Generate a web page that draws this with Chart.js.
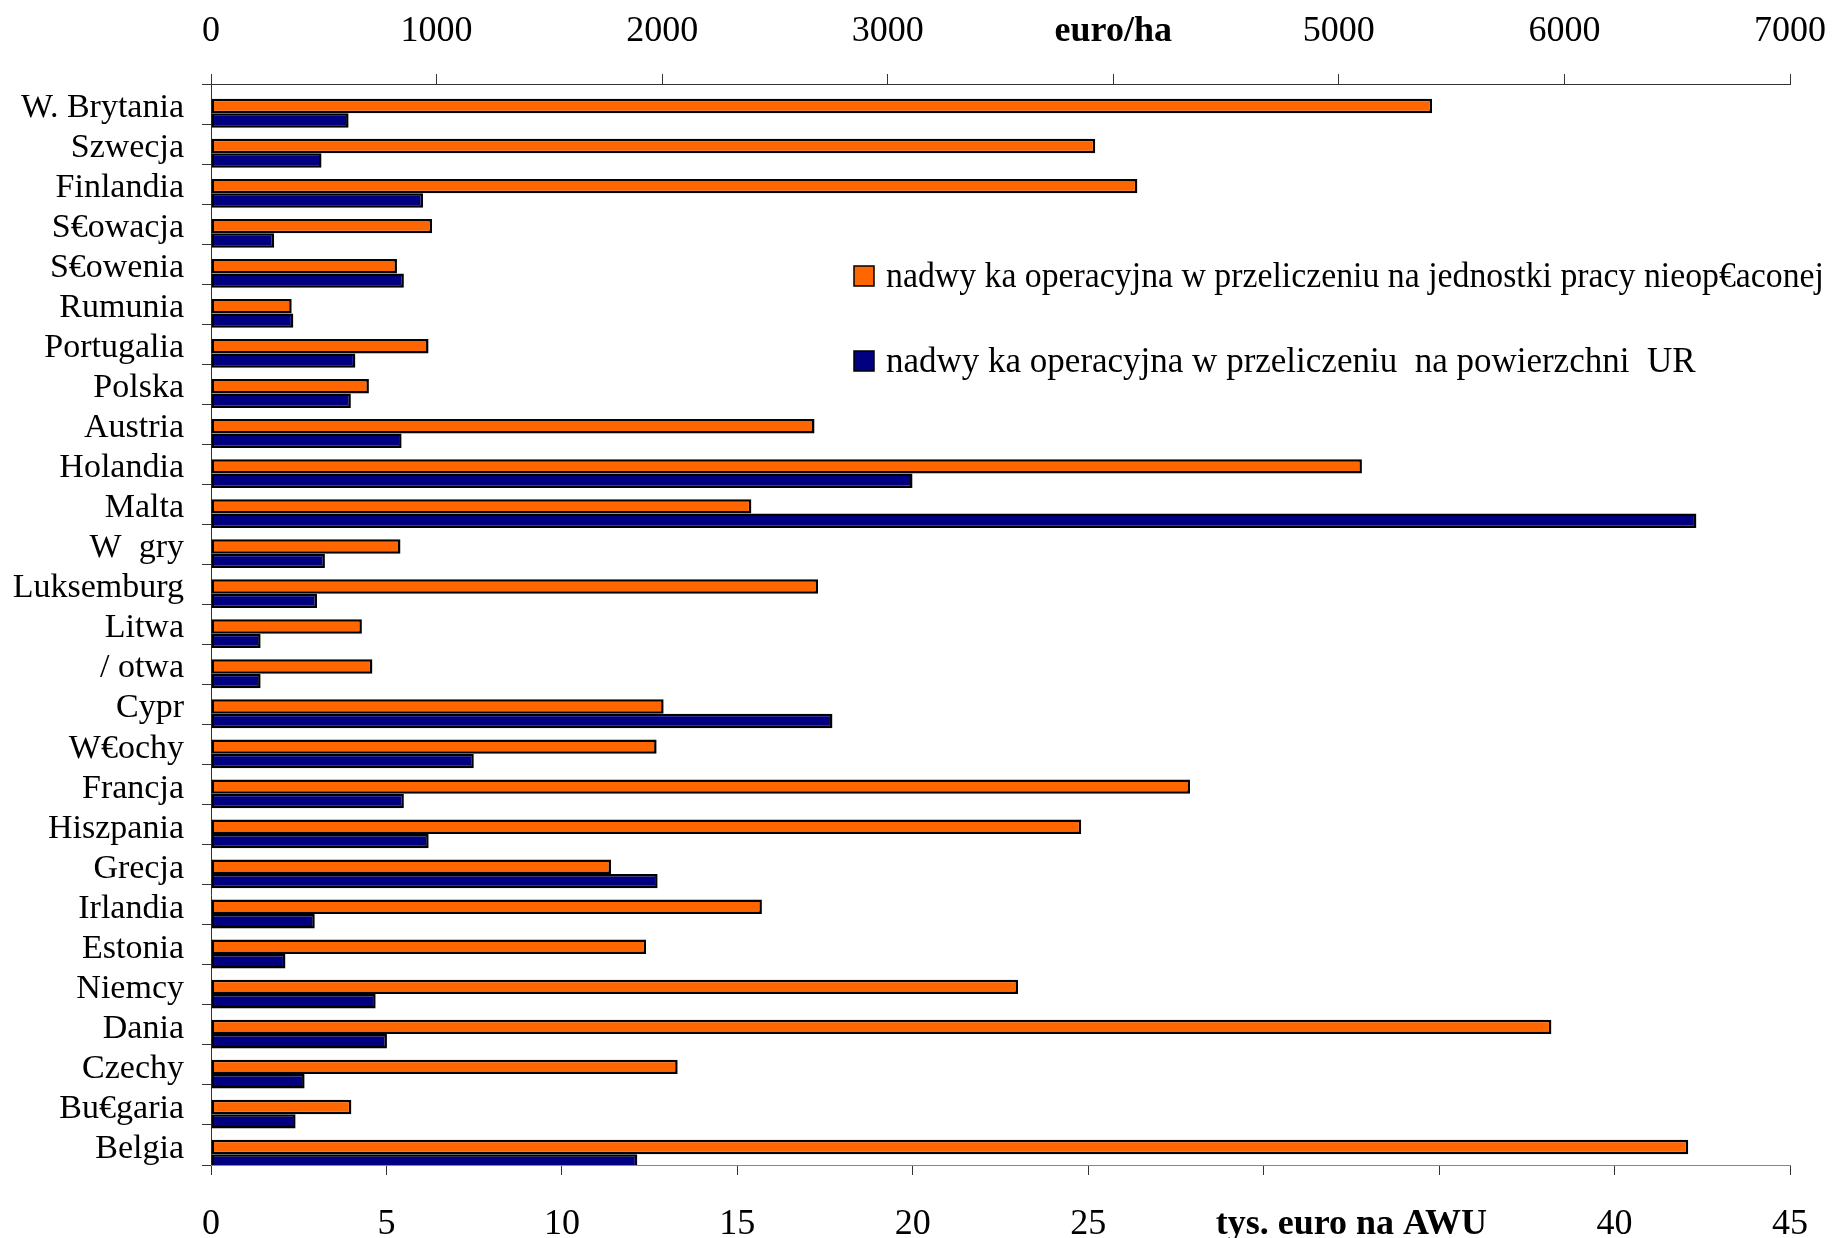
<!DOCTYPE html>
<html>
<head>
<meta charset="utf-8">
<script src="https://cdn.jsdelivr.net/npm/chart.js@4.4.0/dist/chart.umd.min.js"></script>
<style>
  html, body { margin: 0; padding: 0; background: #fff; }
  #wrap { width: 1832px; height: 1238px; position: relative; }
</style>
</head>
<body>
<div id="wrap"><canvas id="chart"></canvas></div>
<script>
// Countries, top to bottom as in the picture
const countries = [
    'W. Brytania', 'Szwecja', 'Finlandia', 'S€owacja', 'S€owenia', 'Rumunia',
    'Portugalia', 'Polska', 'Austria', 'Holandia', 'Malta', 'W  gry',
    'Luksemburg', 'Litwa', '/ otwa', 'Cypr', 'W€ochy', 'Francja',
    'Hiszpania', 'Grecja', 'Irlandia', 'Estonia', 'Niemcy', 'Dania',
    'Czechy', 'Bu€garia', 'Belgia'
];

// tys. euro na AWU (bottom axis)
const awuValues = [
    34.8, 25.2, 26.4, 6.3, 5.3, 2.3,
    6.2, 4.5, 17.2, 32.8, 15.4, 5.4,
    17.3, 4.3, 4.6, 12.9, 12.7, 27.9,
    24.8, 11.4, 15.7, 12.4, 23.0, 38.2,
    13.3, 4.0, 42.1
];

// euro/ha (top axis)
const haValues = [
    610, 490, 940, 280, 855, 365,
    640, 620, 845, 3110, 6585, 505,
    470, 220, 220, 2755, 1165, 855,
    965, 1980, 460, 330, 730, 780,
    415, 375, 1890
];

const awuLabel = 'nadwy ka operacyjna w przeliczeniu na jednostki pracy nieop€aconej';
const haLabel = 'nadwy ka operacyjna w przeliczeniu  na powierzchni  UR';
const awuTitle = 'tys. euro na AWU';
const haTitle = 'euro/ha';

const fontFamily = '"Liberation Serif", "Times New Roman", serif';
const labelFont = { family: fontFamily, size: 34 };
const tickFont = { family: fontFamily, size: 36 };
const boldFont = { family: fontFamily, size: 36, weight: 'bold' };

// bars sit a bit below the category centre, as in the original
const barShift = 0.23;

// Legend drawn inside the plot area
const boxLegend = {
    id: 'boxLegend',
    afterDatasetsDraw(chart, args, opts) {
        const ctx = chart.ctx;
        ctx.save();
        ctx.font = '35px ' + fontFamily;
        ctx.textBaseline = 'middle';
        ctx.textAlign = 'left';
        chart.data.datasets.forEach((ds, i) => {
            const y = opts.y + i * opts.gap;
            ctx.fillStyle = ds.backgroundColor;
            ctx.fillRect(opts.x, y - opts.box / 2, opts.box, opts.box);
            ctx.strokeStyle = '#000';
            ctx.lineWidth = 1.5;
            ctx.strokeRect(opts.x, y - opts.box / 2, opts.box, opts.box);
            ctx.fillStyle = '#000';
            ctx.fillText(ds.label, opts.x + opts.box + 12, y + 2, opts.maxWidth);
        });
        ctx.restore();
    }
};

// Bold unit title on the bottom axis, spanning the 30 and 35 ticks
const bottomTitle = {
    id: 'bottomTitle',
    afterDraw(chart) {
        const sc = chart.scales.x;
        const ctx = chart.ctx;
        const xMid = (sc.getPixelForValue(30) + sc.getPixelForValue(35)) / 2;
        const y = sc.top + sc.options.grid.tickLength + sc.options.ticks.padding + 36 * 1.2 / 2;
        ctx.save();
        ctx.font = 'bold 36px ' + fontFamily;
        ctx.fillStyle = '#000';
        ctx.textAlign = 'center';
        ctx.textBaseline = 'middle';
        ctx.fillText(awuTitle, xMid, y);
        ctx.restore();
    }
};

new Chart(document.getElementById('chart'), {
    type: 'bar',
    data: {
        labels: countries,
        datasets: [{
            label: awuLabel,
            data: awuValues.map((v, i) => ({ x: v, y: i })),
            xAxisID: 'x',
            yAxisID: 'yb',
            backgroundColor: '#FF6600',
            borderColor: '#000',
            borderWidth: 2.5,
            borderSkipped: false,
            categoryPercentage: 0.72,
            barPercentage: 1.0
        }, {
            label: haLabel,
            data: haValues.map((v, i) => ({ x: v, y: i })),
            xAxisID: 'x2',
            yAxisID: 'yb',
            backgroundColor: '#000080',
            borderColor: '#000',
            borderWidth: 2.5,
            borderSkipped: false,
            categoryPercentage: 0.72,
            barPercentage: 1.0
        }]
    },
    options: {
        indexAxis: 'y',
        responsive: true,
        maintainAspectRatio: false,
        animation: false,
        layout: { padding: { left: 0, right: 42, top: 0, bottom: 0 } },
        plugins: {
            legend: { display: false },
            tooltip: { enabled: false },
            boxLegend: { x: 854, y: 276, gap: 85, box: 20, maxWidth: 938 }
        },
        scales: {
            y: {
                type: 'category',
                position: 'left',
                offset: true,
                grid: { offset: true, drawOnChartArea: false, drawTicks: true, tickLength: 9, color: '#333' },
                border: { color: '#333', width: 1 },
                ticks: { font: labelFont, color: '#000', padding: 18, labelOffset: 4, autoSkip: false },
                afterFit(scale) { scale.width = 211; }
            },
            yb: {
                type: 'linear',
                display: false,
                reverse: true,
                offset: false,
                grid: { offset: false },
                min: -0.5 - barShift,
                max: countries.length - 0.5 - barShift,
                afterBuildTicks(scale) {
                    scale.ticks = countries.map((c, i) => ({ value: i }));
                }
            },
            x: {
                position: 'bottom',
                min: 0,
                max: 45,
                grid: { drawOnChartArea: false, drawTicks: true, tickLength: 10, color: '#333' },
                border: { color: '#888', width: 1 },
                ticks: {
                    stepSize: 5,
                    font: tickFont,
                    color: '#000',
                    padding: 28,
                    callback: v => (v === 30 || v === 35) ? '' : v
                },
                afterFit(scale) {
                    scale.height = 73;
                    scale.paddingLeft = 0;
                    scale.paddingRight = 0;
                }
            },
            x2: {
                position: 'top',
                min: 0,
                max: 7000,
                grid: { drawOnChartArea: false, drawTicks: true, tickLength: 10, color: '#333' },
                border: { color: '#333', width: 1 },
                ticks: {
                    stepSize: 1000,
                    color: '#000',
                    padding: 21,
                    font: ctx => (ctx.tick && ctx.tick.value === 4000) ? boldFont : tickFont,
                    callback: v => v === 4000 ? haTitle : v
                },
                afterFit(scale) {
                    scale.height = 84;
                    scale.paddingLeft = 0;
                    scale.paddingRight = 0;
                }
            }
        }
    },
    plugins: [boxLegend, bottomTitle]
});
</script>
</body>
</html>
